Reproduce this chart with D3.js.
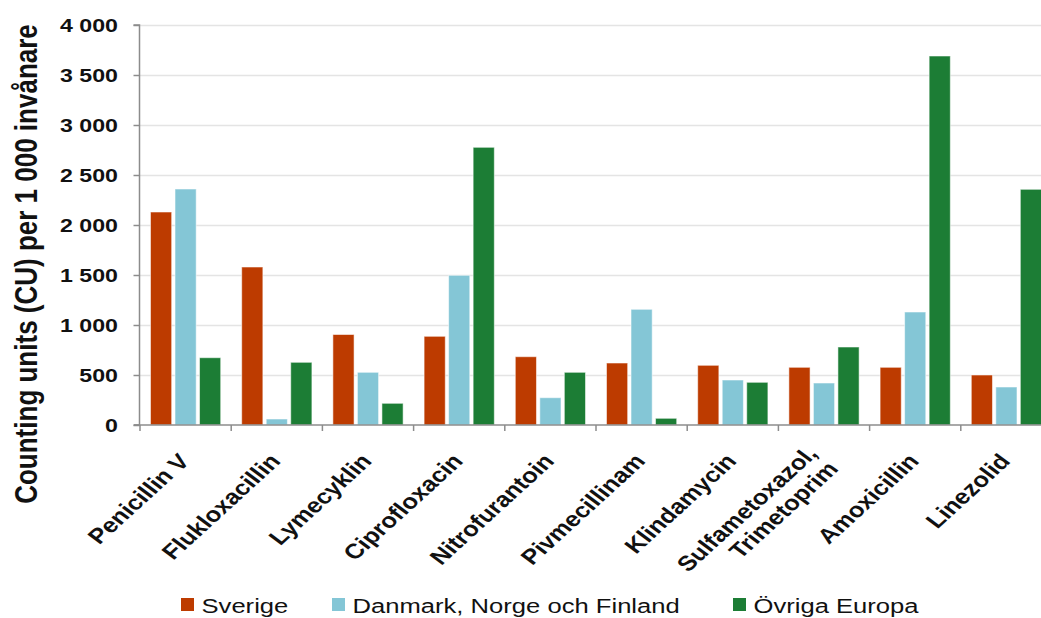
<!DOCTYPE html>
<html>
<head>
<meta charset="utf-8">
<script src="https://cdn.jsdelivr.net/npm/d3@7"></script>
<style>
  html, body { margin: 0; padding: 0; background: #ffffff; }
  svg { display: block; font-family: "Liberation Sans", Arial, sans-serif; }
</style>
</head>
<body>
<svg id="chart" width="1041" height="618"></svg>
<script>
// Antibiotic consumption, counting units per 1 000 inhabitants
const categories = [
  "Penicillin V", "Flukloxacillin", "Lymecyklin", "Ciprofloxacin", "Nitrofurantoin",
  "Pivmecillinam", "Klindamycin", "Sulfametoxazol,\nTrimetoprim", "Amoxicillin", "Linezolid"
];
const seriesNames = ["Sverige", "Danmark, Norge och Finland", "Övriga Europa"];
const sverige = [2130, 1580, 905, 887, 683, 620, 597, 577, 577, 500];
const nordic  = [2360, 60, 527, 1497, 273, 1157, 450, 420, 1130, 380];
const europa  = [673, 627, 217, 2777, 527, 67, 427, 780, 3690, 2357];
const yTicks = [0, 500, 1000, 1500, 2000, 2500, 3000, 3500, 4000];
const colors = ["#bd3b00", "#84c6d6", "#1c7d35"];

const seriesValues = [sverige, nordic, europa];
const rows = categories.map((c, i) => ({
  cat: c,
  vals: seriesValues.map((s, k) => ({ key: seriesNames[k], value: s[i], k }))
}));

const svg = d3.select("#chart");
const plotLeft = 140, plotRight = 1052, plotTop = 25, plotBottom = 425;
const sx = 1.22; // horizontal text stretch

const y = d3.scaleLinear().domain([0, 4000]).range([plotBottom, plotTop]);
const x0 = d3.scaleBand().domain(categories).range([plotLeft, plotRight]).padding(0);
const bw = x0.bandwidth();
const x1 = d3.scaleBand().domain(seriesNames)
  .range([bw * 0.115, bw * 0.885]).paddingInner(0.136).paddingOuter(0);

// gridlines
svg.append("g").selectAll("line")
  .data(yTicks.filter(t => t > 0))
  .join("line")
  .attr("x1", plotLeft).attr("x2", plotRight)
  .attr("y1", d => Math.round(y(d)) + 0.5).attr("y2", d => Math.round(y(d)) + 0.5)
  .attr("stroke", "#e4e4e4").attr("stroke-width", 1.5);

// bars
const groups = svg.append("g").selectAll("g")
  .data(rows).join("g")
  .attr("transform", d => `translate(${x0(d.cat)},0)`);
groups.selectAll("rect")
  .data(d => d.vals).join("rect")
  .attr("x", d => x1(d.key))
  .attr("width", x1.bandwidth())
  .attr("y", d => y(d.value))
  .attr("height", d => y(0) - y(d.value))
  .attr("fill", d => colors[d.k])
  .attr("stroke", "rgba(255,255,255,0.55)")
  .attr("stroke-width", 1);

// y axis
const yAxis = svg.append("g").attr("transform", `translate(${plotLeft - 0.5},0)`)
  .call(d3.axisLeft(y).tickValues(yTicks).tickSize(6).tickFormat(() => ""));
yAxis.selectAll("path, line").attr("stroke", "#8c8c8c").attr("stroke-width", 1.5);
yAxis.select(".domain").attr("d", `M-6,${y(0)}H0V${y(4000)}H-6`);

svg.append("g").selectAll("text")
  .data(yTicks).join("text")
  .attr("transform", d => `translate(118,${y(d)}) scale(${sx},1)`)
  .attr("dy", "0.36em")
  .attr("text-anchor", "end")
  .attr("font-size", 19).attr("font-weight", "bold").attr("fill", "#111")
  .text(d => d3.format(",")(d).replace(/,/g, " "));

// x axis with boundary ticks
const xAxis = svg.append("g");
xAxis.append("line")
  .attr("x1", plotLeft - 6).attr("x2", plotRight)
  .attr("y1", plotBottom).attr("y2", plotBottom)
  .attr("stroke", "#8c8c8c").attr("stroke-width", 1.5);
xAxis.selectAll("line.tick")
  .data(categories.map(c => x0(c)).concat([plotRight]))
  .join("line").attr("class", "tick")
  .attr("x1", d => d).attr("x2", d => d)
  .attr("y1", plotBottom).attr("y2", plotBottom + 6)
  .attr("stroke", "#8c8c8c").attr("stroke-width", 1.5);

// category labels, slanted
const lh = 23;
const labels = svg.append("g").selectAll("text")
  .data(categories).join("text")
  .attr("transform", d => `translate(${x0(d) + bw / 2 + 5},462) scale(${sx},1) rotate(-48)`)
  .attr("text-anchor", "end")
  .attr("font-size", 21).attr("font-weight", "bold").attr("fill", "#111");
labels.each(function (d) {
  const lines = d.split("\n");
  const t = d3.select(this);
  lines.forEach((ln, i) => {
    t.append("tspan")
      .attr("x", 0)
      .attr("y", (i - (lines.length - 1) / 2) * lh)
      .text(ln);
  });
});

// y axis title
svg.append("text")
  .attr("transform", `translate(37,264) scale(${sx},1) rotate(-90)`)
  .attr("text-anchor", "middle")
  .attr("font-size", 26).attr("font-weight", "bold").attr("fill", "#111")
  .text("Counting units (CU) per 1 000 invånare");

// legend
const legendX = [181, 332, 733];
const lg = svg.append("g").selectAll("g")
  .data(seriesNames).join("g")
  .attr("transform", (d, i) => `translate(${legendX[i]},598)`);
lg.append("rect")
  .attr("width", 13).attr("height", 13)
  .attr("fill", (d, i) => colors[i]);
lg.append("text")
  .attr("transform", `translate(20.5,15.3) scale(${sx},1)`)
  .attr("font-size", 21).attr("fill", "#111")
  .text(d => d);
</script>
</body>
</html>
